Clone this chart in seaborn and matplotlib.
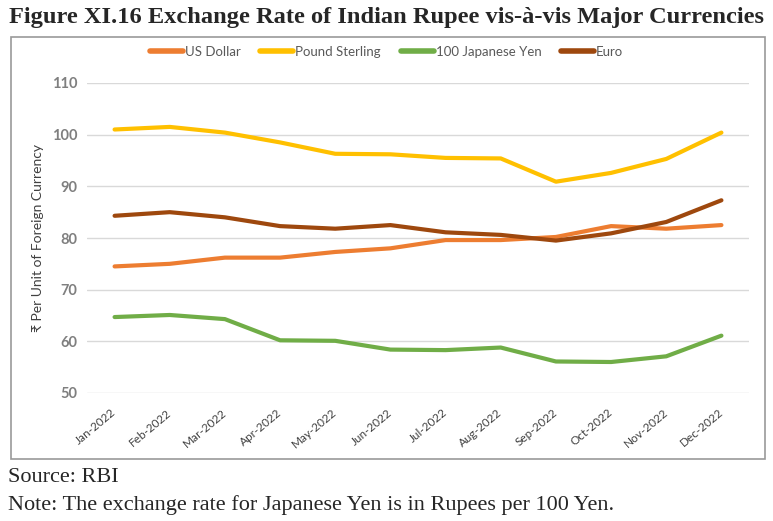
import matplotlib
matplotlib.use("Agg")
import matplotlib.pyplot as plt
import seaborn as sns
import pandas as pd
from matplotlib.patches import Rectangle
from matplotlib.lines import Line2D
import matplotlib.transforms as mtransforms

months = ["Jan-2022", "Feb-2022", "Mar-2022", "Apr-2022", "May-2022", "Jun-2022",
          "Jul-2022", "Aug-2022", "Sep-2022", "Oct-2022", "Nov-2022", "Dec-2022"]
us_dollar = [74.5, 75.0, 76.2, 76.2, 77.3, 78.0, 79.6, 79.6, 80.2, 82.3, 81.8, 82.5]
pound_sterling = [101.0, 101.5, 100.4, 98.5, 96.3, 96.2, 95.5, 95.4, 90.9, 92.6, 95.3, 100.4]
japanese_yen_100 = [64.7, 65.1, 64.3, 60.2, 60.1, 58.4, 58.3, 58.8, 56.1, 56.0, 57.1, 61.1]
euro = [84.3, 85.0, 84.0, 82.3, 81.8, 82.5, 81.1, 80.6, 79.5, 80.9, 83.1, 87.3]
series_names = ["US Dollar", "Pound Sterling", "100 Japanese Yen", "Euro"]
colors = ["#ED7D31", "#FFC000", "#70AD47", "#9E480E"]
y_ticks = [50, 60, 70, 80, 90, 100, 110]

sns.set_theme(style="white")
plt.rcParams['font.family'] = ['Lato', 'DejaVu Sans']

rows = []
for name, vals in zip(series_names, [us_dollar, pound_sterling, japanese_yen_100, euro]):
    for i, (m, v) in enumerate(zip(months, vals)):
        rows.append({"Month": m, "idx": i, "Value": v, "Series": name})
df = pd.DataFrame(rows)

fig = plt.figure(figsize=(7.73, 5.21), dpi=100)
W, H = 773, 521
ax = fig.add_axes([87 / W, 1 - 393 / H, (749 - 87) / W, (393 - 83) / H])

sns.lineplot(data=df, x="idx", y="Value", hue="Series", hue_order=series_names,
             palette=colors, linewidth=3.0, ax=ax, legend=False, sort=False)

ax.set_xlim(-0.5, len(months) - 0.5)
ax.set_ylim(50, 110)
ax.set_yticks(y_ticks)
ax.set_yticklabels([str(t) for t in y_ticks], fontsize=10.5, fontweight="bold", color="#7F7F7F")
ax.set_xticks(range(len(months)))
ax.set_xticklabels(months, rotation=40, ha="right", va="center", rotation_mode="anchor",
                   fontsize=8.5, color="#404040")
offset = mtransforms.ScaledTranslation(3 / 100, 0, fig.dpi_scale_trans)
for lbl in ax.get_xticklabels():
    lbl.set_transform(lbl.get_transform() + offset)
ax.tick_params(axis="y", length=0, pad=7)
ax.tick_params(axis="x", length=0, pad=13)
ax.grid(axis="y", color="#D9D9D9", linewidth=1)
ax.set_axisbelow(True)
for s in ax.spines.values():
    s.set_visible(False)
ax.set_xlabel("")
ax.set_ylabel("₹ Per Unit of Foreign Currency", fontsize=10, color="#404040")
ax.yaxis.set_label_coords(-43 / (749 - 87), 0.5)

# legend
handles = [Line2D([0], [0], color=c, linewidth=4, solid_capstyle="round") for c in colors]
fig.legend(handles, series_names, loc="center", bbox_to_anchor=(0.5, 1 - 52 / H), ncol=4,
           frameon=False, fontsize=9.5, handlelength=2.5, handletextpad=0.15, columnspacing=1.5,
           labelcolor="#595959")

# chart border
fig.patches.append(Rectangle((11 / W, 1 - 459 / H), (765 - 11) / W, (459 - 37) / H,
                             transform=fig.transFigure, fill=False, edgecolor="#999999",
                             linewidth=1.2))

fig.text(0.5, 1 - 18 / H, "Figure XI.16 Exchange Rate of Indian Rupee vis-à-vis Major Currencies",
         ha="center", va="center", fontsize=17.6, fontweight="bold",
         family=["Liberation Serif", "DejaVu Serif"])
fig.text(8 / W, 1 - 477 / H, "Source: RBI", ha="left", va="center", fontsize=16,
         family=["Liberation Serif", "DejaVu Serif"])
fig.text(8 / W, 1 - 505 / H, "Note: The exchange rate for Japanese Yen is in Rupees per 100 Yen.",
         ha="left", va="center", fontsize=16, family=["Liberation Serif", "DejaVu Serif"])

fig.savefig("out.png", dpi=100)
